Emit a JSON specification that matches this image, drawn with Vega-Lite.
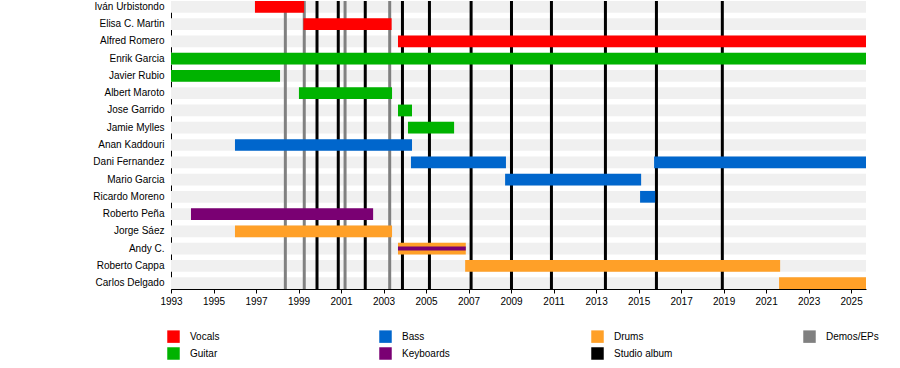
{
  "$schema": "https://vega.github.io/schema/vega-lite/v6.json",
  "autosize": {"type": "none"},
  "width": 695,
  "height": 288,
  "padding": {"left": 171, "top": 1, "right": 34, "bottom": 79},
  "background": "white",
  "config": {
    "font": "Liberation Sans",
    "view": {"stroke": null},
    "axis": {"labelFont": "Liberation Sans", "labelFontSize": 10, "labelColor": "#000", "domainColor": "#000", "tickColor": "#000", "grid": false, "title": null},
    "legend": {"labelFont": "Liberation Sans", "labelFontSize": 10, "labelColor": "#000"}
  },
  "datasets": {
    "names": [
      {"name": "Iván Urbistondo"}, {"name": "Elisa C. Martin"}, {"name": "Alfred Romero"}, {"name": "Enrik Garcia"},
      {"name": "Javier Rubio"}, {"name": "Albert Maroto"}, {"name": "Jose Garrido"}, {"name": "Jamie Mylles"},
      {"name": "Anan Kaddouri"}, {"name": "Dani Fernandez"}, {"name": "Mario Garcia"}, {"name": "Ricardo Moreno"},
      {"name": "Roberto Peña"}, {"name": "Jorge Sáez"}, {"name": "Andy C."}, {"name": "Roberto Cappa"}, {"name": "Carlos Delgado"}
    ],
    "periods": [
      {"name": "Iván Urbistondo", "role": "Vocals", "start": 1996.95, "end": 1999.26},
      {"name": "Elisa C. Martin", "role": "Vocals", "start": 1999.23, "end": 2003.38},
      {"name": "Alfred Romero", "role": "Vocals", "start": 2003.68, "end": 2025.7},
      {"name": "Enrik Garcia", "role": "Guitar", "start": 1993, "end": 2025.7},
      {"name": "Javier Rubio", "role": "Guitar", "start": 1993, "end": 1998.13},
      {"name": "Albert Maroto", "role": "Guitar", "start": 1999.02, "end": 2003.4},
      {"name": "Jose Garrido", "role": "Guitar", "start": 2003.68, "end": 2004.34},
      {"name": "Jamie Mylles", "role": "Guitar", "start": 2004.15, "end": 2006.32},
      {"name": "Anan Kaddouri", "role": "Bass", "start": 1996.01, "end": 2004.34},
      {"name": "Dani Fernandez", "role": "Bass", "start": 2004.29, "end": 2008.76},
      {"name": "Dani Fernandez", "role": "Bass", "start": 2015.73, "end": 2025.7},
      {"name": "Mario Garcia", "role": "Bass", "start": 2008.72, "end": 2015.12},
      {"name": "Ricardo Moreno", "role": "Bass", "start": 2015.07, "end": 2015.78},
      {"name": "Roberto Peña", "role": "Keyboards", "start": 1993.94, "end": 2002.51},
      {"name": "Jorge Sáez", "role": "Drums", "start": 1996.01, "end": 2003.4},
      {"name": "Andy C.", "role": "Drums", "start": 2003.68, "end": 2006.87},
      {"name": "Roberto Cappa", "role": "Drums", "start": 2006.84, "end": 2021.66},
      {"name": "Carlos Delgado", "role": "Drums", "start": 2021.61, "end": 2025.7}
    ],
    "secondary": [
      {"name": "Andy C.", "role": "Keyboards", "start": 2003.68, "end": 2006.87}
    ],
    "releases": [
      {"year": 1998.38, "role": "Demos/EPs"},
      {"year": 1999.27, "role": "Demos/EPs"},
      {"year": 2001.19, "role": "Demos/EPs"},
      {"year": 2003.29, "role": "Demos/EPs"},
      {"year": 1999.87, "role": "Studio album"},
      {"year": 2000.87, "role": "Studio album"},
      {"year": 2002.14, "role": "Studio album"},
      {"year": 2003.89, "role": "Studio album"},
      {"year": 2005.16, "role": "Studio album"},
      {"year": 2007.12, "role": "Studio album"},
      {"year": 2009.02, "role": "Studio album"},
      {"year": 2010.9, "role": "Studio album"},
      {"year": 2013.44, "role": "Studio album"},
      {"year": 2015.84, "role": "Studio album"},
      {"year": 2018.94, "role": "Studio album"}
    ]
  },
  "layer": [
    {
      "data": {"name": "names"},
      "mark": {"type": "bar", "color": "#f0f0f0"},
      "encoding": {
        "y": {"field": "name", "type": "nominal", "sort": null,
              "scale": {"paddingInner": 0.32, "paddingOuter": 0},
              "axis": {"ticks": false, "labelPadding": 7, "domainWidth": 1}},
        "x": {"datum": 1993, "type": "quantitative"},
        "x2": {"datum": 2025.7}
      }
    },
    {
      "data": {"name": "releases"},
      "mark": {"type": "rule", "strokeWidth": 3},
      "encoding": {
        "x": {"field": "year", "type": "quantitative"},
        "color": {"field": "role", "type": "nominal"}
      }
    },
    {
      "data": {"name": "periods"},
      "mark": {"type": "bar"},
      "encoding": {
        "y": {"field": "name", "type": "nominal", "sort": null},
        "x": {"field": "start", "type": "quantitative",
              "scale": {"domain": [1993, 2025.7], "nice": false, "zero": false},
              "axis": {"values": [1993,1994,1995,1996,1997,1998,1999,2000,2001,2002,2003,2004,2005,2006,2007,2008,2009,2010,2011,2012,2013,2014,2015,2016,2017,2018,2019,2020,2021,2022,2023,2024,2025],
                       "format": "d", "labelExpr": "datum.value % 2 == 1 ? datum.label : ''",
                       "tickSize": 4, "labelPadding": 3, "labelFlush": false, "labelOverlap": false}},
        "x2": {"field": "end"},
        "color": {"field": "role", "type": "nominal",
                  "scale": {"domain": ["Vocals", "Guitar", "Bass", "Keyboards", "Drums", "Studio album", "Demos/EPs"],
                            "range": ["#ff0000", "#00b300", "#0066cc", "#7a0073", "#ffa028", "#000000", "#808080"]},
                  "legend": {"title": null, "orient": "none", "legendX": -4, "legendY": 329, "columns": 4,
                             "symbolType": "square", "symbolSize": 156, "symbolStrokeWidth": 0, "symbolOpacity": 1,
                             "labelOffset": 10, "columnPadding": 130, "rowPadding": 4, "gridAlign": "all"}}
      }
    },
    {
      "data": {"name": "secondary"},
      "mark": {"type": "bar", "height": 4},
      "encoding": {
        "y": {"field": "name", "type": "nominal", "sort": null},
        "x": {"field": "start", "type": "quantitative"},
        "x2": {"field": "end"},
        "color": {"field": "role", "type": "nominal"}
      }
    }
  ]
}
